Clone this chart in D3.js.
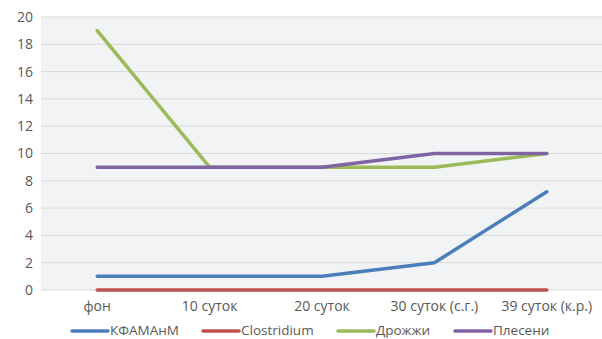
<!DOCTYPE html>
<html><head><meta charset="utf-8">
<script src="https://cdn.jsdelivr.net/npm/d3@7"></script>
<style>body{margin:0;background:#fff}svg{display:block}text{font-family:"Open Sans",sans-serif;fill:#595959}</style>
</head><body><svg id="c" width="602" height="339"></svg>
<script>
const categories = ["фон","10 суток","20 суток","30 суток (с.г.)","39 суток (к.р.)"];
const seriesNames = ["КФАМАнМ","Clostridium","Дрожжи","Плесени"];
const kfam = [1,1,1,2,7.2];
const clostridium = [0,0,0,0,0];
const yeast = [19,9,9,9,10];
const mold = [9,9,9,10,10];
const yTicks = [0,2,4,6,8,10,12,14,16,18,20];
const colors = ["#4a7ebb","#c0504d","#9bbb59","#8064a2"];
const series = [kfam, clostridium, yeast, mold];

const svg = d3.select("#c");
const L = 41, R = 602, T = 17, B = 290;
const x = d3.scaleBand().domain(categories).range([L, R+1]);
const y = d3.scaleLinear().domain([0,20]).range([B, T]);

svg.append("rect").attr("x",L).attr("y",T).attr("width",R-L).attr("height",B-T).attr("fill","#f2f3f5");
svg.append("g").selectAll("line").data(yTicks).join("line")
  .attr("x1",L).attr("x2",R).attr("y1",d=>y(d)).attr("y2",d=>y(d))
  .attr("stroke","#d9d9d9").attr("stroke-width",1);

const ya = svg.append("g").attr("transform",`translate(${L},0)`)
  .call(d3.axisLeft(y).tickValues(yTicks).tickSize(0).tickPadding(8));
ya.select(".domain").remove();
ya.selectAll("text").style("font-size","14px").attr("fill","#595959");

const xa = svg.append("g").attr("transform",`translate(0,${B})`)
  .call(d3.axisBottom(x).tickSize(0).tickPadding(11));
xa.select(".domain").remove();
xa.selectAll("text").style("font-size","14px").attr("fill","#595959");

const line = d3.line().x((d,i)=>x(categories[i])+x.bandwidth()/2).y(d=>y(d));
series.forEach((s,i)=>{
  svg.append("path").datum(s).attr("d",line).attr("fill","none")
    .attr("stroke",colors[i]).attr("stroke-width",3.5)
    .attr("stroke-linecap","round").attr("stroke-linejoin","round");
});

const legX = [72,203,338,455];
const lg = svg.append("g");
seriesNames.forEach((n,i)=>{
  lg.append("line").attr("x1",legX[i]).attr("x2",legX[i]+36).attr("y1",331).attr("y2",331)
    .attr("stroke",colors[i]).attr("stroke-width",3.5).attr("stroke-linecap","round");
  lg.append("text").attr("x",legX[i]+38).attr("y",335).style("font-size","13.5px").text(n);
});
</script></body></html>
